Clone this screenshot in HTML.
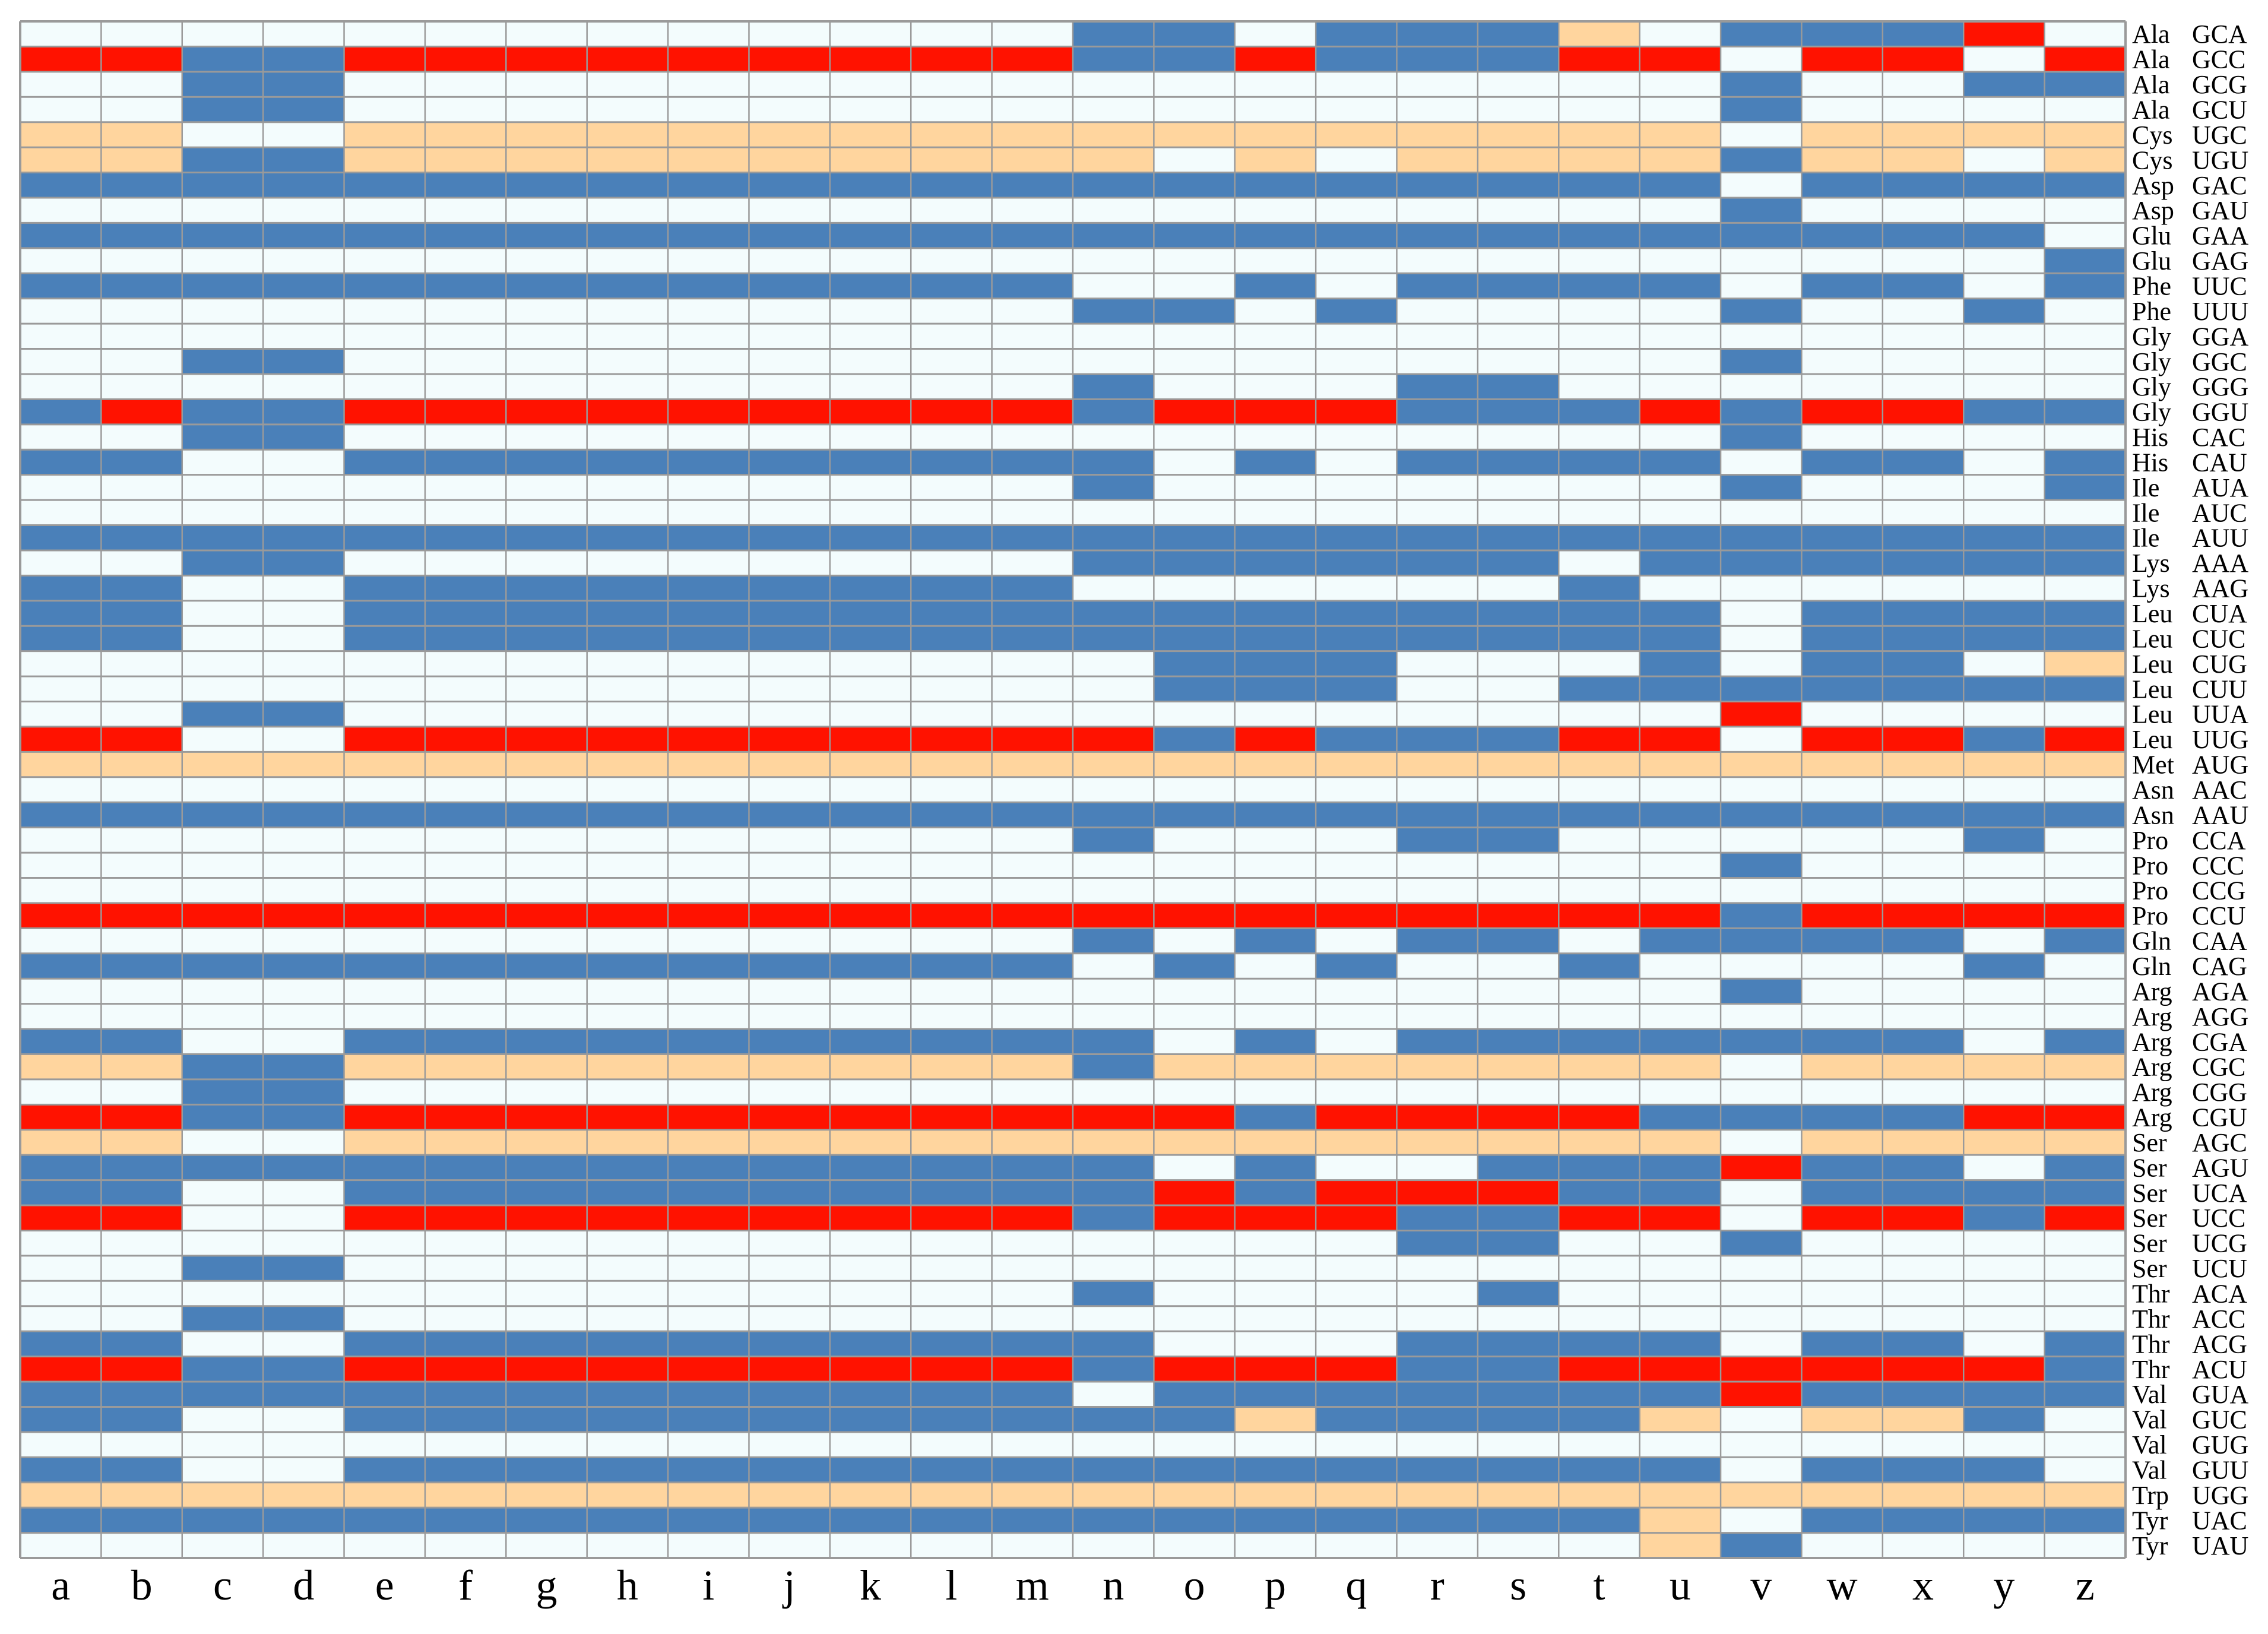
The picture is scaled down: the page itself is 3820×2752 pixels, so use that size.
<!DOCTYPE html>
<html><head><meta charset="utf-8"><style>
html,body{margin:0;padding:0;background:#fff;}
svg{display:block;}
</style></head><body>
<svg id="chart" width="3820" height="2752" viewBox="0 0 3820 2752" xmlns="http://www.w3.org/2000/svg">
<rect x="0" y="0" width="3820" height="2752" fill="#ffffff"/>
<g id="cells"></g>
<g id="grid"></g>
<g id="ylabels"></g>
<g id="xlabels"></g>
</svg>
<script>
const columns = ["a","b","c","d","e","f","g","h","i","j","k","l","m","n","o","p","q","r","s","t","u","v","w","x","y","z"];
const aminoAcids = ["Ala","Ala","Ala","Ala","Cys","Cys","Asp","Asp","Glu","Glu","Phe","Phe","Gly","Gly","Gly","Gly","His","His","Ile","Ile","Ile","Lys","Lys","Leu","Leu","Leu","Leu","Leu","Leu","Met","Asn","Asn","Pro","Pro","Pro","Pro","Gln","Gln","Arg","Arg","Arg","Arg","Arg","Arg","Ser","Ser","Ser","Ser","Ser","Ser","Thr","Thr","Thr","Thr","Val","Val","Val","Val","Trp","Tyr","Tyr"];
const codons = ["GCA","GCC","GCG","GCU","UGC","UGU","GAC","GAU","GAA","GAG","UUC","UUU","GGA","GGC","GGG","GGU","CAC","CAU","AUA","AUC","AUU","AAA","AAG","CUA","CUC","CUG","CUU","UUA","UUG","AUG","AAC","AAU","CCA","CCC","CCG","CCU","CAA","CAG","AGA","AGG","CGA","CGC","CGG","CGU","AGC","AGU","UCA","UCC","UCG","UCU","ACA","ACC","ACG","ACU","GUA","GUC","GUG","GUU","UGG","UAC","UAU"];
// W = none, B = blue, R = red, O = peach ; columns a-m then n-z
const cellCodes = [
"WWWWWWWWWWWWW"+"BBWBBBOWBBBRW",
"RRBBRRRRRRRRR"+"BBRBBBRRWRRWR",
"WWBBWWWWWWWWW"+"WWWWWWWWBWWBB",
"WWBBWWWWWWWWW"+"WWWWWWWWBWWWW",
"OOWWOOOOOOOOO"+"OOOOOOOOWOOOO",
"OOBBOOOOOOOOO"+"OWOWOOOOBOOWO",
"BBBBBBBBBBBBB"+"BBBBBBBBWBBBB",
"WWWWWWWWWWWWW"+"WWWWWWWWBWWWW",
"BBBBBBBBBBBBB"+"BBBBBBBBBBBBW",
"WWWWWWWWWWWWW"+"WWWWWWWWWWWWB",
"BBBBBBBBBBBBB"+"WWBWBBBBWBBWB",
"WWWWWWWWWWWWW"+"BBWBWWWWBWWBW",
"WWWWWWWWWWWWW"+"WWWWWWWWWWWWW",
"WWBBWWWWWWWWW"+"WWWWWWWWBWWWW",
"WWWWWWWWWWWWW"+"BWWWBBWWWWWWW",
"BRBBRRRRRRRRR"+"BRRRBBBRBRRBB",
"WWBBWWWWWWWWW"+"WWWWWWWWBWWWW",
"BBWWBBBBBBBBB"+"BWBWBBBBWBBWB",
"WWWWWWWWWWWWW"+"BWWWWWWWBWWWB",
"WWWWWWWWWWWWW"+"WWWWWWWWWWWWW",
"BBBBBBBBBBBBB"+"BBBBBBBBBBBBB",
"WWBBWWWWWWWWW"+"BBBBBBWBBBBBB",
"BBWWBBBBBBBBB"+"WWWWWWBWWWWWW",
"BBWWBBBBBBBBB"+"BBBBBBBBWBBBB",
"BBWWBBBBBBBBB"+"BBBBBBBBWBBBB",
"WWWWWWWWWWWWW"+"WBBBWWWBWBBWO",
"WWWWWWWWWWWWW"+"WBBBWWBBBBBBB",
"WWBBWWWWWWWWW"+"WWWWWWWWRWWWW",
"RRWWRRRRRRRRR"+"RBRBBBRRWRRBR",
"OOOOOOOOOOOOO"+"OOOOOOOOOOOOO",
"WWWWWWWWWWWWW"+"WWWWWWWWWWWWW",
"BBBBBBBBBBBBB"+"BBBBBBBBBBBBB",
"WWWWWWWWWWWWW"+"BWWWBBWWWWWBW",
"WWWWWWWWWWWWW"+"WWWWWWWWBWWWW",
"WWWWWWWWWWWWW"+"WWWWWWWWWWWWW",
"RRRRRRRRRRRRR"+"RRRRRRRRBRRRR",
"WWWWWWWWWWWWW"+"BWBWBBWBBBBWB",
"BBBBBBBBBBBBB"+"WBWBWWBWWWWBW",
"WWWWWWWWWWWWW"+"WWWWWWWWBWWWW",
"WWWWWWWWWWWWW"+"WWWWWWWWWWWWW",
"BBWWBBBBBBBBB"+"BWBWBBBBBBBWB",
"OOBBOOOOOOOOO"+"BOOOOOOOWOOOO",
"WWBBWWWWWWWWW"+"WWWWWWWWWWWWW",
"RRBBRRRRRRRRR"+"RRBRRRRBBBBRR",
"OOWWOOOOOOOOO"+"OOOOOOOOWOOOO",
"BBBBBBBBBBBBB"+"BWBWWBBBRBBWB",
"BBWWBBBBBBBBB"+"BRBRRRBBWBBBB",
"RRWWRRRRRRRRR"+"BRRRBBRRWRRBR",
"WWWWWWWWWWWWW"+"WWWWBBWWBWWWW",
"WWBBWWWWWWWWW"+"WWWWWWWWWWWWW",
"WWWWWWWWWWWWW"+"BWWWWBWWWWWWW",
"WWBBWWWWWWWWW"+"WWWWWWWWWWWWW",
"BBWWBBBBBBBBB"+"BWWWBBBBWBBWB",
"RRBBRRRRRRRRR"+"BRRRBBRRRRRRB",
"BBBBBBBBBBBBB"+"WBBBBBBBRBBBB",
"BBWWBBBBBBBBB"+"BBOBBBBOWOOBW",
"WWWWWWWWWWWWW"+"WWWWWWWWWWWWW",
"BBWWBBBBBBBBB"+"BBBBBBBBWBBBW",
"OOOOOOOOOOOOO"+"OOOOOOOOOOOOO",
"BBBBBBBBBBBBB"+"BBBBBBBOWBBBB",
"WWWWWWWWWWWWW"+"WWWWWWWOBWWWW"
];
const palette = {W:"#f3fcfd", B:"#4a80b9", R:"#ff1200", O:"#ffd59e"};
const NS = "http://www.w3.org/2000/svg";
const gLeft = 34, gRight = 3580, gTop = 36, gBottom = 2624;
const nCols = columns.length, nRows = codons.length;
const cw = (gRight-gLeft)/nCols, rh = (gBottom-gTop)/nRows;
function xPos(i){ return gLeft + i*cw; }
function yPos(j){ return gTop + j*rh; }
const cellsG = document.getElementById('cells');
for (let j=0;j<nRows;j++){
  const row = cellCodes[j] || "";
  for (let i=0;i<nCols;i++){
    const code = row[i] || "W";
    const r = document.createElementNS(NS,'rect');
    r.setAttribute('x', xPos(i)); r.setAttribute('y', yPos(j));
    r.setAttribute('width', cw); r.setAttribute('height', rh);
    r.setAttribute('fill', palette[code] || palette.W);
    
    
    cellsG.appendChild(r);
  }
}
const gridG = document.getElementById('grid');
for (let i=0;i<=nCols;i++){
  const l = document.createElementNS(NS,'line');
  l.setAttribute('x1', xPos(i)); l.setAttribute('x2', xPos(i));
  l.setAttribute('y1', gTop); l.setAttribute('y2', gBottom);
  l.setAttribute('stroke', '#9a9a9a'); l.setAttribute('stroke-width', (i===0||i===nCols)?4:2.5);
  
  
  gridG.appendChild(l);
}
for (let j=0;j<=nRows;j++){
  const l = document.createElementNS(NS,'line');
  l.setAttribute('x1', gLeft); l.setAttribute('x2', gRight);
  l.setAttribute('y1', yPos(j)); l.setAttribute('y2', yPos(j));
  l.setAttribute('stroke', '#9a9a9a'); l.setAttribute('stroke-width', (j===0||j===nRows)?4:3);
  
  
  gridG.appendChild(l);
}
const yl = document.getElementById('ylabels');
for (let j=0;j<nRows;j++){
  const cy = yPos(j) + rh/2 + 15;
  const t1 = document.createElementNS(NS,'text');
  t1.setAttribute('x', 3591); t1.setAttribute('y', cy);
  t1.setAttribute('font-family', '"Liberation Serif", serif'); t1.setAttribute('font-size', 44);
  t1.textContent = aminoAcids[j];
  
  
  yl.appendChild(t1);
  const t2 = document.createElementNS(NS,'text');
  t2.setAttribute('x', 3692); t2.setAttribute('y', cy);
  t2.setAttribute('font-family', '"Liberation Serif", serif'); t2.setAttribute('font-size', 44);
  t2.textContent = codons[j];
  
  
  yl.appendChild(t2);
}
const xl = document.getElementById('xlabels');
for (let i=0;i<nCols;i++){
  const t = document.createElementNS(NS,'text');
  t.setAttribute('x', xPos(i)+cw/2); t.setAttribute('y', 2694);
  t.setAttribute('text-anchor', 'middle');
  t.setAttribute('font-family', '"Liberation Serif", serif'); t.setAttribute('font-size', 72);
  t.textContent = columns[i];
  
  
  xl.appendChild(t);
}
</script>
</body></html>
